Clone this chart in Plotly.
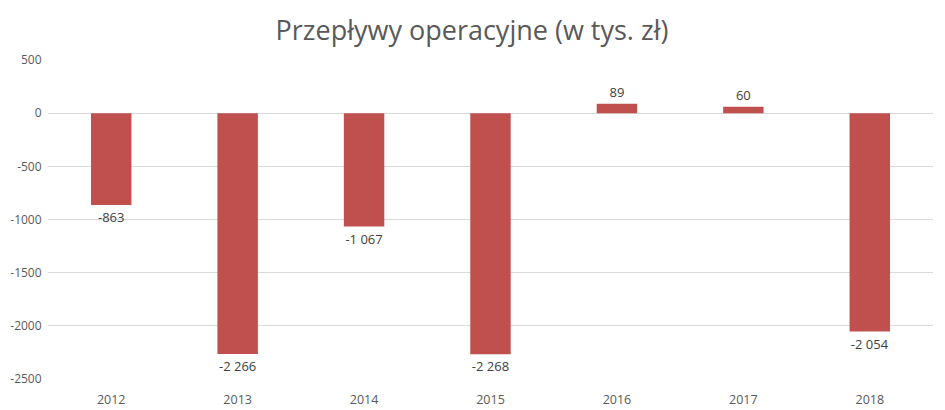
import plotly.graph_objects as go

years = ["2012", "2013", "2014", "2015", "2016", "2017", "2018"]
values = [-863, -2266, -1067, -2268, 89, 60, -2054]
y_ticks = [500, 0, -500, -1000, -1500, -2000, -2500]

def fmt(v):
    s = f"{abs(v):,}".replace(",", " ")
    return ("-" if v < 0 else "") + s

labels = [fmt(v) for v in values]

fig = go.Figure(go.Bar(
    x=years, y=values, text=labels, textposition="outside",
    textfont=dict(size=13, color="#404040", family="Open Sans"),
    marker=dict(color="#C0504D", line=dict(width=0)),
    width=0.32, cliponaxis=False,
))

fig.update_layout(
    width=945, height=410,
    margin=dict(l=40, r=20, t=52, b=39),
    paper_bgcolor="white", plot_bgcolor="white",
    title=dict(text="Przepływy operacyjne (w tys. zł)", x=0.491, xanchor="center",
               y=0.946, yanchor="middle",
               font=dict(size=27, color="#595959", family="Open Sans")),
    font=dict(family="Open Sans", color="#595959", size=12),
    showlegend=False,
)
fig.update_xaxes(showgrid=False, showline=False, ticks="outside", ticklen=9, tickcolor="white",
                 tickfont=dict(size=12.5, color="#595959"), automargin=False)
fig.update_yaxes(range=[-2500, 500], tickvals=y_ticks, ticktext=[str(t) for t in y_ticks],
                 showgrid=True, gridcolor="#D9D9D9", gridwidth=1, zeroline=False,
                 showline=False, ticks="outside", ticklen=3, tickcolor="white",
                 tickfont=dict(size=12, color="#595959"), automargin=False)

fig.write_html("out.html")
